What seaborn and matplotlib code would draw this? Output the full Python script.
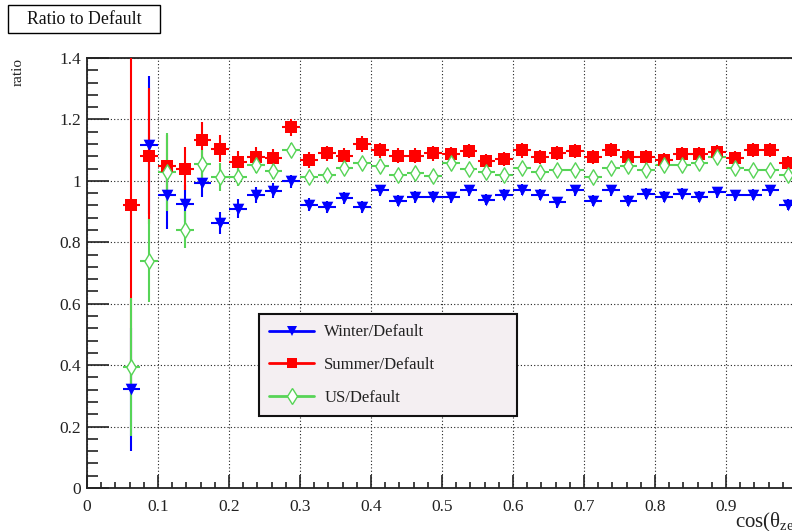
import numpy as np
import pandas as pd
import matplotlib
matplotlib.use("Agg")
import matplotlib.pyplot as plt
from matplotlib.lines import Line2D
from matplotlib.patches import Rectangle
import seaborn as sns

# ---- data: ratio of each variant to the default, per cos(theta_zen) bin ----
cos_centers = [0.0625, 0.0875, 0.1125, 0.1375, 0.1625, 0.1875, 0.2125, 0.2375,
               0.2625, 0.2875, 0.3125, 0.3375, 0.3625, 0.3875, 0.4125, 0.4375,
               0.4625, 0.4875, 0.5125, 0.5375, 0.5625, 0.5875, 0.6125, 0.6375,
               0.6625, 0.6875, 0.7125, 0.7375, 0.7625, 0.7875, 0.8125, 0.8375,
               0.8625, 0.8875, 0.9125, 0.9375, 0.9625, 0.9875]
bin_half_width = 0.0125

winter = [0.322, 1.116, 0.953, 0.926, 0.994, 0.862, 0.910, 0.954, 0.968, 0.998,
          0.923, 0.916, 0.945, 0.914, 0.969, 0.936, 0.947, 0.949, 0.947, 0.969,
          0.938, 0.955, 0.971, 0.955, 0.931, 0.969, 0.936, 0.969, 0.936, 0.958,
          0.949, 0.958, 0.949, 0.963, 0.953, 0.955, 0.969, 0.923]
winter_err = [0.200, 0.224, 0.110, 0.060, 0.048, 0.035, 0.030, 0.027, 0.025, 0.022,
              0.020, 0.020, 0.020, 0.020, 0.019, 0.019, 0.019, 0.019, 0.018, 0.018,
              0.018, 0.018, 0.018, 0.018, 0.018, 0.018, 0.018, 0.018, 0.018, 0.018,
              0.018, 0.018, 0.018, 0.018, 0.018, 0.018, 0.018, 0.018]

summer = [0.920, 1.081, 1.050, 1.039, 1.134, 1.105, 1.061, 1.078, 1.075, 1.175,
          1.068, 1.090, 1.082, 1.120, 1.099, 1.082, 1.082, 1.090, 1.088, 1.098,
          1.065, 1.071, 1.099, 1.079, 1.090, 1.096, 1.079, 1.101, 1.077, 1.079,
          1.068, 1.087, 1.087, 1.093, 1.074, 1.101, 1.101, 1.059]
summer_err = [0.600, 0.220, 0.100, 0.070, 0.057, 0.044, 0.036, 0.033, 0.030, 0.028,
              0.026, 0.025, 0.025, 0.025, 0.024, 0.024, 0.024, 0.024, 0.023, 0.023,
              0.023, 0.023, 0.023, 0.023, 0.023, 0.023, 0.023, 0.023, 0.023, 0.023,
              0.023, 0.023, 0.023, 0.023, 0.023, 0.023, 0.023, 0.023]

us = [0.395, 0.740, 1.028, 0.841, 1.055, 1.012, 1.014, 1.053, 1.031, 1.100,
      1.013, 1.018, 1.041, 1.057, 1.049, 1.019, 1.024, 1.017, 1.057, 1.037,
      1.030, 1.019, 1.041, 1.030, 1.035, 1.035, 1.013, 1.041, 1.049, 1.035,
      1.052, 1.052, 1.057, 1.077, 1.041, 1.035, 1.035, 1.019]
us_err = [0.225, 0.135, 0.127, 0.060, 0.045, 0.045, 0.032, 0.028, 0.025, 0.022,
          0.020, 0.020, 0.020, 0.020, 0.019, 0.019, 0.019, 0.019, 0.018, 0.018,
          0.018, 0.018, 0.018, 0.018, 0.018, 0.018, 0.018, 0.018, 0.018, 0.018,
          0.018, 0.018, 0.018, 0.018, 0.018, 0.018, 0.018, 0.018]

series_labels = ["Winter/Default", "Summer/Default", "US/Default"]
y_ticks = [0, 0.2, 0.4, 0.6, 0.8, 1.0, 1.2, 1.4]
y_tick_labels = ["0", "0.2", "0.4", "0.6", "0.8", "1", "1.2", "1.4"]
x_ticks = [0, 0.1, 0.2, 0.3, 0.4, 0.5, 0.6, 0.7, 0.8, 0.9, 1.0]
x_tick_labels = ["0", "0.1", "0.2", "0.3", "0.4", "0.5", "0.6", "0.7", "0.8", "0.9", ""]

# ---- styling ----
sns.set_theme(style="white")
plt.rcParams["font.family"] = ["Liberation Serif", "DejaVu Serif"]
plt.rcParams["mathtext.fontset"] = "custom"
plt.rcParams["mathtext.rm"] = "Liberation Serif"
plt.rcParams["mathtext.it"] = "Liberation Serif:italic"

BLUE = "#0000ff"
RED = "#ff0000"
GREEN = "#57d457"

frames = []
for name, vals, errs in zip(series_labels, [winter, summer, us],
                            [winter_err, summer_err, us_err]):
    frames.append(pd.DataFrame({"cos": cos_centers, "ratio": vals,
                                "err": errs, "series": name}))
df = pd.concat(frames, ignore_index=True)

styles = {
    "Winter/Default": dict(color=BLUE, marker="v", s=70, face=BLUE, lw=0),
    "Summer/Default": dict(color=RED, marker="s", s=85, face=RED, lw=0),
    "US/Default": dict(color=GREEN, marker="d", s=62, face="white", lw=1.0),
}

fig = plt.figure(figsize=(7.92, 5.31), dpi=100)
ax = fig.add_axes([87 / 792, 1 - 488 / 531, 710 / 792, 430 / 531])
ax.set_facecolor("white")

# error bars first, then the markers on top
for i, name in enumerate(series_labels):
    d = df[df["series"] == name]
    st = styles[name]
    ax.errorbar(d["cos"], d["ratio"], yerr=d["err"], xerr=bin_half_width,
                fmt="none", ecolor=st["color"], elinewidth=1.5, capsize=0,
                zorder=3 + i)
for i, name in enumerate(series_labels):
    d = df[df["series"] == name]
    st = styles[name]
    sns.scatterplot(data=d, x="cos", y="ratio", ax=ax, marker=st["marker"],
                    s=st["s"], color=st["face"], edgecolor=st["color"],
                    linewidth=st["lw"], zorder=7 + i, legend=False)

ax.set_xlim(0, 1)
ax.set_ylim(0, 1.4)
ax.set_xticks(x_ticks)
ax.set_xticklabels(x_tick_labels)
ax.set_yticks(y_ticks)
ax.set_yticklabels(y_tick_labels)
ax.set_xticks(np.arange(0, 1.0001, 0.02), minor=True)
ax.set_yticks(np.arange(0, 1.4001, 0.04), minor=True)
ax.set_xlabel("")
ax.set_ylabel("")

ax.grid(True, which="major", color="#222222", linestyle=(0, (1, 2)),
        linewidth=0.8, zorder=1)
ax.set_axisbelow(True)

for sp in ax.spines.values():
    sp.set_visible(True)
    sp.set_color("#222222")
    sp.set_linewidth(1.3)

ax.tick_params(axis="y", which="major", direction="in", length=16, width=1.2,
               color="#222222", labelsize=12.5, pad=4.5, left=True, right=False)
ax.tick_params(axis="y", which="minor", direction="in", length=8, width=1.2,
               color="#222222", left=True, right=False)
ax.tick_params(axis="x", which="major", direction="in", length=9.5, width=1.2,
               color="#222222", labelsize=12.5, pad=8, bottom=True, top=False)
ax.tick_params(axis="x", which="minor", direction="in", length=4.5, width=1.2,
               color="#222222", bottom=True, top=False)
for lab in ax.get_xticklabels() + ax.get_yticklabels():
    lab.set_color("#222222")

# axis titles placed at the axis ends
fig.text(18 / 792, 1 - 58 / 531, "ratio", rotation=90, ha="center", va="top",
         fontsize=11, color="#222222")
fig.text(735 / 792, 1 - 527 / 531, r"cos(θ$_{\mathrm{zen}}$)", ha="left",
         va="baseline", fontsize=15, color="#222222")

# plot title box
fig.patches.append(Rectangle((8 / 792, 1 - 33 / 531), 152 / 792, 28 / 531,
                             transform=fig.transFigure, facecolor="white",
                             edgecolor="black", linewidth=1.0))
fig.text(84 / 792, 1 - 19 / 531, "Ratio to Default", ha="center", va="center",
         fontsize=12.8, color="#111111")

# legend
handles = [
    Line2D([], [], color=BLUE, lw=2, marker="v", markersize=7,
           markerfacecolor=BLUE, markeredgewidth=0),
    Line2D([], [], color=RED, lw=2, marker="s", markersize=7.5,
           markerfacecolor=RED, markeredgewidth=0),
    Line2D([], [], color=GREEN, lw=2, marker="d", markersize=8,
           markerfacecolor="white", markeredgecolor=GREEN, markeredgewidth=1.0),
]
leg = fig.legend(handles, series_labels, loc="upper left",
                 bbox_to_anchor=(259 / 792, 1 - 417 / 531, 258 / 792, 103 / 531),
                 mode="expand", borderaxespad=0, fontsize=12,
                 handlelength=2.7, handletextpad=0.6, borderpad=0.62,
                 labelspacing=1.0, fancybox=False, framealpha=1,
                 facecolor="#f4eff2", edgecolor="#111111")
leg.get_frame().set_linewidth(1.5)
for t in leg.get_texts():
    t.set_color("#222222")

fig.savefig("out.png", dpi=100, facecolor="white")
